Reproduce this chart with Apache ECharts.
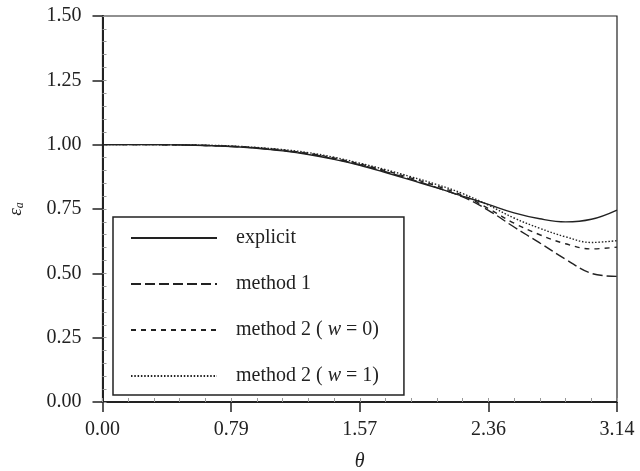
<!DOCTYPE html>
<html>
<head>
<meta charset="utf-8">
<script src="https://cdn.jsdelivr.net/npm/echarts@6/dist/echarts.min.js"></script>
<style>
  html, body { margin: 0; padding: 0; background: #fff; }
  #chart { width: 640px; height: 471px; }
</style>
</head>
<body>
<div id="chart"></div>
<script>
// theta samples (rad) and curve values
const theta = [0, 0.157, 0.314, 0.471, 0.628, 0.785, 0.942, 1.100, 1.257, 1.414, 1.571,
  1.728, 1.885, 2.042, 2.199, 2.356, 2.513, 2.670, 2.827, 2.985, 3.1416];
const explicitVals = [1.000, 1.000, 1.000, 0.999, 0.997, 0.993, 0.986, 0.976, 0.962, 0.943, 0.920,
  0.892, 0.862, 0.832, 0.800, 0.768, 0.735, 0.712, 0.700, 0.710, 0.746];
const method1Vals = [1.000, 1.000, 1.000, 0.999, 0.997, 0.993, 0.987, 0.977, 0.964, 0.945, 0.922,
  0.895, 0.865, 0.833, 0.797, 0.745, 0.680, 0.618, 0.555, 0.500, 0.488];
const method2w0Vals = [1.000, 1.000, 1.000, 0.999, 0.997, 0.994, 0.988, 0.979, 0.966, 0.948, 0.925,
  0.899, 0.870, 0.839, 0.803, 0.752, 0.695, 0.650, 0.615, 0.595, 0.602];
const method2w1Vals = [1.000, 1.000, 1.000, 0.999, 0.998, 0.995, 0.989, 0.981, 0.969, 0.951, 0.928,
  0.903, 0.875, 0.845, 0.810, 0.765, 0.715, 0.675, 0.642, 0.620, 0.627];
const seriesNames = ["explicit", "method 1", "method 2 (w = 0)", "method 2 (w = 1)"];
const xMax = 3.1416;
const xStep = 0.7854;
const xMinorStep = 0.15708;
const yMax = 1.5;
const yStep = 0.25;
const yMinorStep = 0.05;

const ink = "#222";
const serif = "'Liberation Serif', 'DejaVu Serif', serif";

const pairs = (ys) => theta.map((t, i) => [t, ys[i]]);

const chart = echarts.init(document.getElementById("chart"));

const lineSeries = (name, ys, dash) => ({
  name: name,
  type: "line",
  data: pairs(ys),
  xAxisIndex: 0,
  yAxisIndex: 0,
  smooth: 0.4,
  symbol: "none",
  lineStyle: { color: ink, width: 1.4, type: dash },
  itemStyle: { color: ink },
  z: 5,
});

const option = {
  animation: false,
  grid: {
    left: 102.5, right: 23, top: 16, bottom: 69,
    outerBoundsMode: "none",
    containLabel: false,
    show: true, borderColor: ink, borderWidth: 1.2,
  },
  legend: {
    orient: "vertical",
    left: 113, top: 217,
    padding: [11, 25, 9, 17],
    itemWidth: 86, itemHeight: 14, itemGap: 26,
    borderColor: ink, borderWidth: 1.5,
    backgroundColor: "#fff",
    data: seriesNames,
    itemStyle: { opacity: 0 },
    formatter: (n) => n.replace(/\(w =/, "( {i|w} ="),
    textStyle: {
      fontFamily: serif, fontSize: 20, color: ink,
      padding: [0, 0, 0, 14],
      rich: { i: { fontFamily: serif, fontStyle: "italic", fontSize: 20, color: ink } },
    },
  },
  xAxis: [
    {
      type: "value", min: 0, max: xMax, interval: xStep,
      position: "bottom",
      name: "θ", nameLocation: "middle", nameGap: 50,
      nameTextStyle: { fontFamily: serif, fontStyle: "italic", fontSize: 20, color: ink },
      axisLine: { show: true, lineStyle: { color: ink, width: 2 } },
      axisTick: { show: true, inside: false, length: 10, lineStyle: { color: ink, width: 1.5 } },
      axisLabel: {
        fontFamily: serif, fontSize: 20, color: ink, margin: 18,
        formatter: (v) => v.toFixed(2), showMaxLabel: true, showMinLabel: true,
      },
      splitLine: { show: false },
    },
    {
      type: "value", min: 0, max: xMax, interval: xMinorStep,
      position: "bottom",
      axisLine: { show: false },
      axisTick: { show: true, inside: true, length: 4, lineStyle: { color: "#999", width: 1 } },
      axisLabel: { show: false },
      splitLine: { show: false },
    },
  ],
  yAxis: [
    {
      type: "value", min: 0, max: yMax, interval: yStep,
      position: "left",
      name: "{e|ε}{s|a}", nameLocation: "middle", nameGap: 77, nameRotate: 90,
      nameTextStyle: {
        rich: {
          e: { fontFamily: serif, fontStyle: "italic", fontSize: 19, color: ink },
          s: { fontFamily: serif, fontStyle: "italic", fontSize: 12, color: ink, verticalAlign: "bottom", padding: [8, 0, 0, 0] },
        },
      },
      axisLine: { show: true, lineStyle: { color: ink, width: 2 } },
      axisTick: { show: true, inside: false, length: 10, lineStyle: { color: ink, width: 1.5 } },
      axisLabel: {
        fontFamily: serif, fontSize: 20, color: ink, margin: 21,
        formatter: (v) => v.toFixed(2),
      },
      splitLine: { show: false },
    },
    {
      type: "value", min: 0, max: yMax, interval: yMinorStep,
      position: "left",
      axisLine: { show: false },
      axisTick: { show: true, inside: true, length: 4, lineStyle: { color: "#999", width: 1 } },
      axisLabel: { show: false },
      splitLine: { show: false },
    },
  ],
  series: [
    lineSeries(seriesNames[0], explicitVals, "solid"),
    lineSeries(seriesNames[1], method1Vals, [10, 4]),
    lineSeries(seriesNames[2], method2w0Vals, [5, 5]),
    lineSeries(seriesNames[3], method2w1Vals, [1.5, 1.8]),
  ],
};

chart.setOption(option);
</script>
</body>
</html>
